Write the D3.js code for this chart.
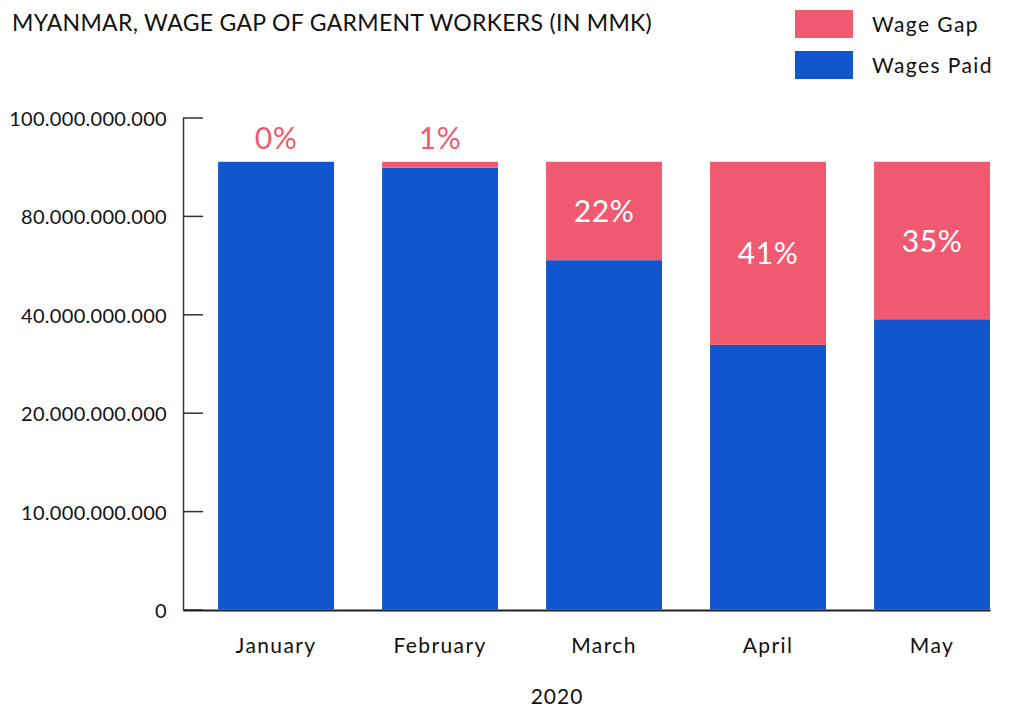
<html>
<head>
    <title>Myanmar wage gap</title>
    <style>
        body { margin: 0; background: #fff; }
        text { font-family: Lato, "Open Sans", sans-serif; }
    </style>
</head>
<body>
    <script src="https://d3js.org/d3.v7.min.js"></script>
    <script>
        // values (MMK)
        var months = ["January", "February", "March", "April", "May"];
        var wagesPaid = [91.0e9, 89.8e9, 71.0e9, 53.8e9, 59.0e9];
        var wageGap = [0, 1.2e9, 20.0e9, 37.2e9, 32.0e9];
        var gapLabels = ["0%", "1%", "22%", "41%", "35%"];
        var yTicks = [0, 20e9, 40e9, 60e9, 80e9, 100e9];
        var yTickLabels = ["0", "10.000.000.000", "20.000.000.000", "40.000.000.000", "80.000.000.000", "100.000.000.000"];
        var legendNames = ["Wage Gap", "Wages Paid"];

        var pink = "#f05a70", blue = "#1156cc";
        var width = 1011, height = 709;
        var svg = d3.select("body").append("svg").attr("width", width).attr("height", height);

        var x = d3.scaleBand().domain(months).range([183, 990])
            .paddingInner(0.293).paddingOuter(0.107).align(1);
        var y = d3.scaleLinear().domain([0, 100e9]).range([609.5, 117.5]);

        // title
        svg.append("text").text("MYANMAR, WAGE GAP OF GARMENT WORKERS (IN MMK)")
            .attr("x", 12).attr("y", 31)
            .attr("font-size", "23px").attr("letter-spacing", "0.3px").attr("fill", "#111");

        // legend
        var lg = svg.append("g").selectAll("g").data(legendNames).enter().append("g")
            .attr("transform", (d, i) => "translate(795," + (10 + i * 41) + ")");
        lg.append("rect").attr("width", 58).attr("height", 28).attr("fill", (d, i) => i == 0 ? pink : blue);
        lg.append("text").text(d => d).attr("x", 77).attr("y", 15).attr("dy", "0.35em")
            .attr("font-size", "21px").attr("letter-spacing", "1.4px").attr("fill", "#111");

        var rows = months.map((m, i) => ({ month: m, paid: wagesPaid[i], gap: wageGap[i], label: gapLabels[i] }));

        // wages paid (blue)
        svg.append("g").selectAll("rect").data(rows).enter().append("rect")
            .attr("x", d => x(d.month))
            .attr("y", d => y(d.paid))
            .attr("width", x.bandwidth())
            .attr("height", d => y(0) - y(d.paid))
            .attr("fill", blue);

        // wage gap (pink) stacked on top
        svg.append("g").selectAll("rect").data(rows).enter().append("rect")
            .attr("x", d => x(d.month))
            .attr("y", d => y(d.paid + d.gap))
            .attr("width", x.bandwidth())
            .attr("height", d => y(d.paid) - y(d.paid + d.gap))
            .attr("fill", pink);

        // percentage labels: above the bar when the gap is tiny, inside otherwise
        svg.append("g").selectAll("text").data(rows).enter().append("text")
            .text(d => d.label)
            .attr("x", d => x(d.month) + x.bandwidth() / 2)
            .attr("y", d => {
                var top = y(d.paid + d.gap), bot = y(d.paid);
                return (bot - top) < 40 ? top - 13 : (top + bot) / 2 + 11;
            })
            .attr("text-anchor", "middle")
            .attr("font-size", "30px").attr("letter-spacing", "0.5px")
            .attr("fill", d => (y(d.paid) - y(d.paid + d.gap)) < 40 ? pink : "#fff");

        // y axis
        var yAxis = svg.append("g").attr("transform", "translate(183,0)")
            .call(d3.axisLeft(y).tickValues(yTicks).tickFormat((d, i) => yTickLabels[i])
                .tickSizeInner(-20).tickSizeOuter(0).tickPadding(16));
        yAxis.selectAll("text").attr("font-size", "20px").attr("letter-spacing", "0.3px")
            .attr("fill", "#111").attr("dy", "0.4em");
        yAxis.selectAll("line, path").attr("stroke", "#333").attr("stroke-width", 1.5);

        // x axis
        var xAxis = svg.append("g").attr("transform", "translate(0,610)")
            .call(d3.axisBottom(x).tickSize(0).tickPadding(28));
        xAxis.selectAll("text").attr("font-size", "21px").attr("letter-spacing", "1.4px").attr("fill", "#111");
        xAxis.select("path").attr("stroke", "#222").attr("stroke-width", 2);

        svg.append("text").text("2020").attr("x", 557).attr("y", 704)
            .attr("text-anchor", "middle").attr("font-size", "21px").attr("letter-spacing", "1px").attr("fill", "#111");
    </script>
</body>
</html>
